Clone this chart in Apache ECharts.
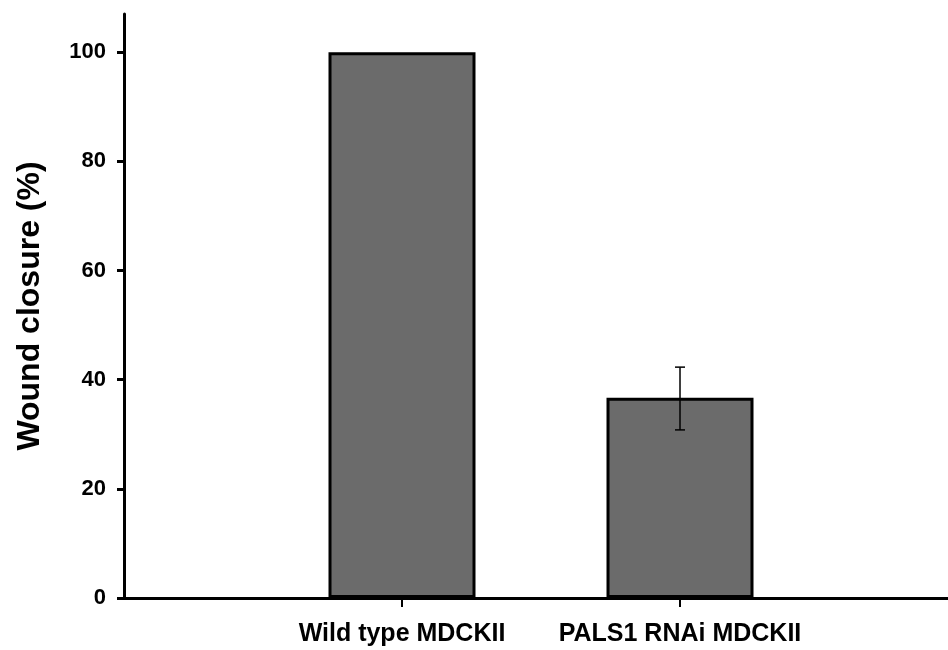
<!DOCTYPE html>
<html>
<head>
<meta charset="utf-8">
<script src="https://cdn.jsdelivr.net/npm/echarts@6/dist/echarts.min.js"></script>
<style>html,body{margin:0;padding:0;background:#fff;}#c{width:948px;height:650px;}</style>
</head>
<body>
<div id="c"></div>
<script>
const categories = ['Wild type MDCKII', 'PALS1 RNAi MDCKII'];
const positions = [1, 2];
const values = [100, 36.7];
const errLow = [null, 30.8];
const errHigh = [null, 42.3];
const yTicks = [0, 20, 40, 60, 80, 100];

const font = '"Liberation Sans", Arial, Helvetica, sans-serif';
const barData = positions.map((p, i) => [p, values[i]]);
const errData = [];
positions.forEach((p, i) => { if (errLow[i] != null) errData.push([p, errLow[i], errHigh[i]]); });

const chart = echarts.init(document.getElementById('c'));
chart.setOption({
  animation: false,
  backgroundColor: '#fff',
  grid: { left: 124, top: 14, right: 0, bottom: 52 },
  xAxis: {
    type: 'value',
    min: 0,
    max: 2.964,
    axisLine: { show: true, onZero: false, lineStyle: { color: '#000', width: 3 } },
    axisTick: { show: true, length: 9, customValues: positions, lineStyle: { color: '#000', width: 2 } },
    axisLabel: {
      customValues: positions,
      formatter: (v) => { const i = positions.indexOf(v); return i >= 0 ? categories[i] : ''; },
      color: '#000', fontFamily: font, fontWeight: 'bold', fontSize: 25, margin: 24
    },
    splitLine: { show: false }
  },
  yAxis: {
    type: 'value',
    min: 0,
    max: 107,
    name: 'Wound closure (%)',
    nameLocation: 'middle',
    nameGap: 78,
    nameTextStyle: { color: '#000', fontFamily: font, fontWeight: 'bold', fontSize: 32 },
    axisLine: { show: true, lineStyle: { color: '#000', width: 3 } },
    axisTick: { show: true, length: 7, customValues: yTicks, lineStyle: { color: '#000', width: 3 } },
    axisLabel: { customValues: yTicks, color: '#000', fontFamily: font, fontWeight: 'bold', fontSize: 22, margin: 18 },
    splitLine: { show: false }
  },
  series: [
    {
      type: 'bar',
      data: barData,
      barWidth: 147,
      itemStyle: { color: '#6b6b6b', borderColor: '#000', borderWidth: 3 }
    },
    {
      type: 'custom',
      z: 10,
      data: errData,
      renderItem: function (params, api) {
        const x = api.value(0);
        const lo = api.coord([x, api.value(1)]);
        const hi = api.coord([x, api.value(2)]);
        const w = 5;
        const st = { stroke: '#000', lineWidth: 1.5 };
        return {
          type: 'group',
          children: [
            { type: 'line', shape: { x1: lo[0], y1: lo[1], x2: hi[0], y2: hi[1] }, style: st },
            { type: 'line', shape: { x1: hi[0] - w, y1: hi[1], x2: hi[0] + w, y2: hi[1] }, style: st },
            { type: 'line', shape: { x1: lo[0] - w, y1: lo[1], x2: lo[0] + w, y2: lo[1] }, style: st }
          ]
        };
      }
    }
  ]
});
</script>
</body>
</html>
